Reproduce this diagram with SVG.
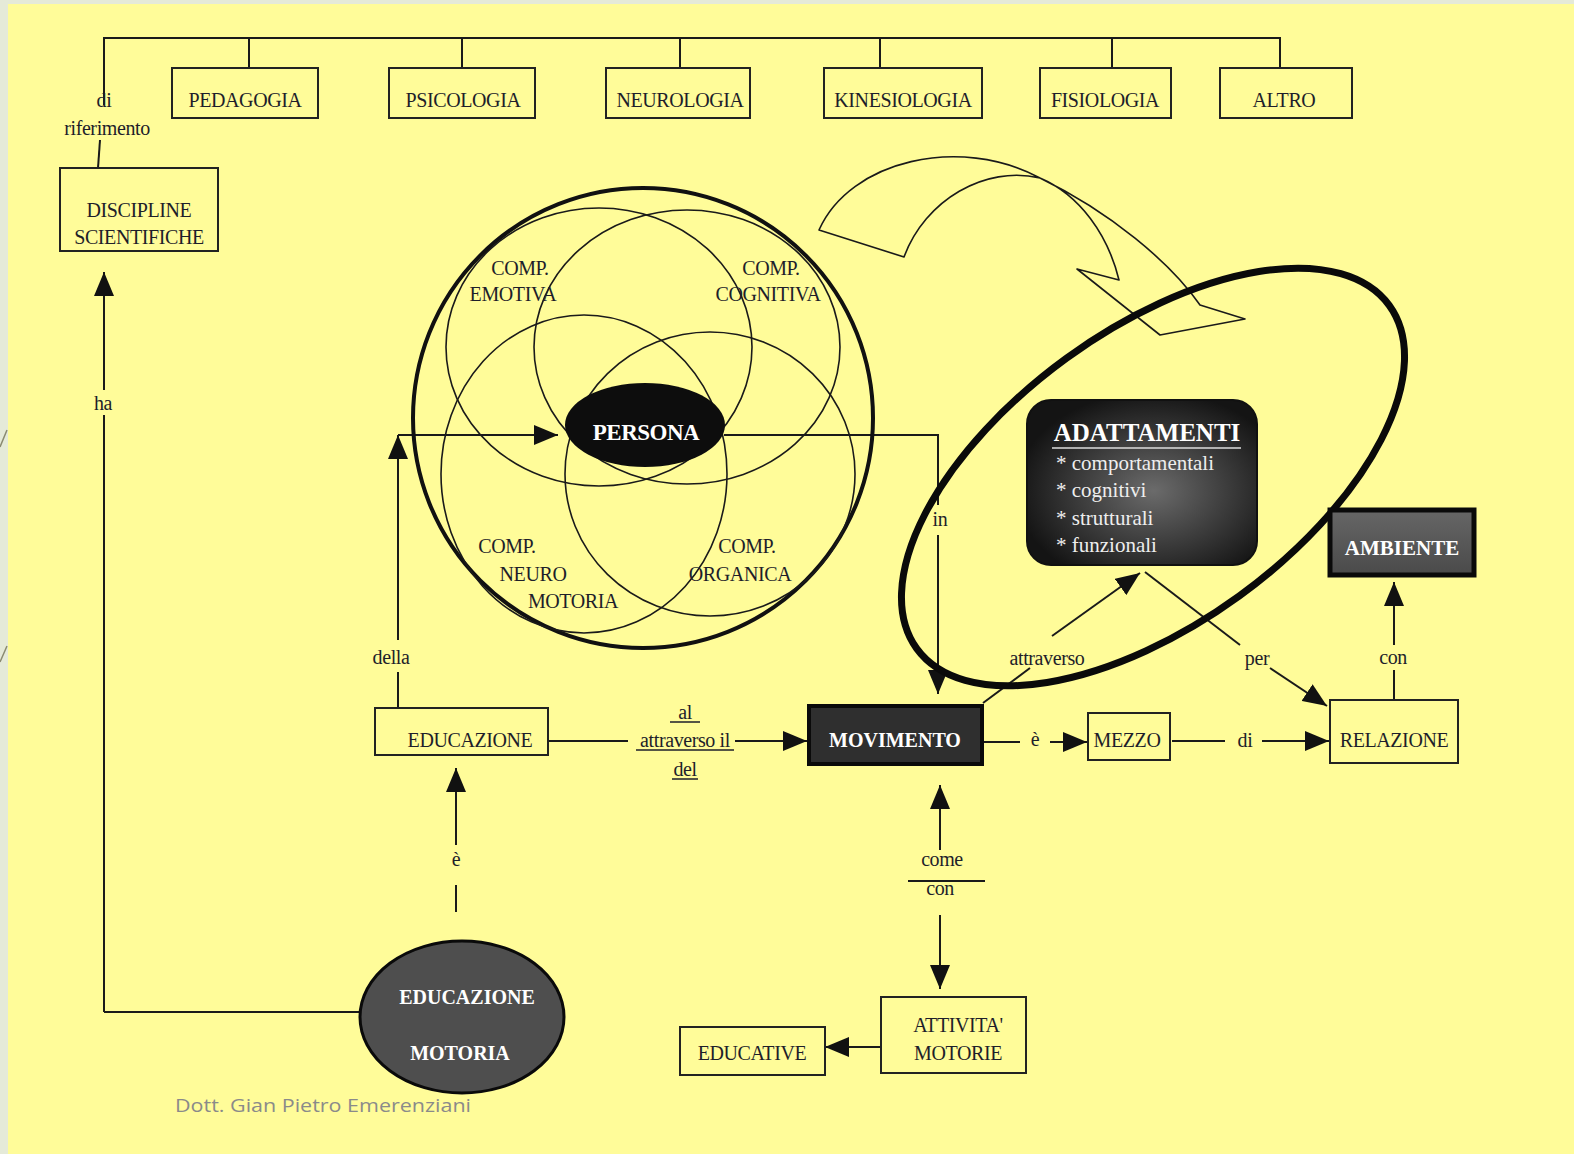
<svg xmlns="http://www.w3.org/2000/svg" width="1574" height="1154" viewBox="0 0 1574 1154">
<defs>
<style>
.t{font-family:"Liberation Serif","Times New Roman",serif;font-size:20px;fill:#1e1e2a;text-anchor:middle;letter-spacing:-0.4px}
.lb{font-family:"Liberation Serif","Times New Roman",serif;font-size:20px;fill:#1e1e2a;text-anchor:middle;letter-spacing:-0.4px}
.w{font-family:"Liberation Serif","Times New Roman",serif;font-weight:bold;fill:#fff;text-anchor:middle}
.box{fill:none;stroke:#222;stroke-width:2}
.c{fill:none;stroke:#1a1a1a;stroke-width:2}
.ring{fill:none;stroke:#1a1a1a;stroke-width:1.6}
.ar{marker-end:url(#ah)}
</style>
<marker id="ah" viewBox="0 0 24 20" refX="24" refY="10" markerWidth="24" markerHeight="20" markerUnits="userSpaceOnUse" orient="auto">
<path d="M0,0 L24,10 L0,20 Z" fill="#111"/>
</marker>
<radialGradient id="gAd" cx="0.55" cy="0.55" r="0.6">
<stop offset="0" stop-color="#6b6b6b"/>
<stop offset="1" stop-color="#141414"/>
</radialGradient>
<linearGradient id="gAm" x1="0" y1="0" x2="0" y2="1">
<stop offset="0" stop-color="#666"/>
<stop offset="1" stop-color="#4a4a4a"/>
</linearGradient>
</defs>

<rect x="0" y="0" width="1574" height="1154" fill="#e5ead8"/>
<rect x="8" y="4" width="1566" height="1150" fill="#fffc99"/>
<path d="M0,447 L7,430 M0,662 L7,646" stroke="#8a8a70" stroke-width="1.5" fill="none"/>

<g id="curved-arrow">
<path d="M819,230 C850,160 960,135 1040,178 C1110,212 1170,262 1200,305 L1245,319 L1160,335 L1077,269 L1119,280 C1108,235 1080,195 1040,178 C985,165 925,200 904,257 Z" fill="#fffc99" stroke="#1a1a1a" stroke-width="1.6" stroke-linejoin="round"/>
</g>

<g id="connectors">
<path class="c" d="M104,105 V38 H1280 V68 M249,38 V68 M462,38 V68 M680,38 V68 M880,38 V68 M1112,38 V68"/>
<path class="c" d="M100,140 L98,168"/>
<path class="c" d="M104,1012 H362 M104,1012 V415"/>
<path class="c ar" d="M104,390 V272"/>
<path class="c" d="M456,912 V885"/>
<path class="c ar" d="M456,845 V768"/>
<path class="c" d="M398,708 V672"/>
<path class="c ar" d="M398,640 V435"/>
<path class="c ar" d="M398,435 H558"/>
<path class="c" d="M724,435 H938 V505"/>
<path class="c ar" d="M938,535 V694"/>
<path class="c" d="M548,741 H628"/>
<path class="c ar" d="M735,741 H807"/>
<path class="c" d="M983,742 H1020"/>
<path class="c ar" d="M1050,742 H1087"/>
<path class="c" d="M1172,741 H1225"/>
<path class="c ar" d="M1262,741 H1329"/>
<path class="c" d="M1394,700 V670"/>
<path class="c ar" d="M1394,645 V582"/>
<path class="c" d="M983,703 L1030,668"/>
<path class="c ar" d="M1052,636 L1140,573"/>
<path class="c" d="M1145,572 L1240,645"/>
<path class="c ar" d="M1270,668 L1327,706"/>
<path class="c ar" d="M940,850 V785"/>
<path class="c ar" d="M940,915 V989"/>
<path class="c" d="M908,881 H985"/>
<path class="c ar" d="M881,1047 H825"/>
<path d="M670,722 H700 M636,750 H734 M672,779 H698" stroke="#1e1e2a" stroke-width="1.5" fill="none"/>
<text class="lb" x="104" y="107">di</text>
<text class="lb" x="107" y="135">riferimento</text>
<text class="lb" x="103" y="410">ha</text>
<text class="lb" x="456" y="866">è</text>
<text class="lb" x="391" y="664">della</text>
<text class="lb" x="940" y="526">in</text>
<text class="lb" x="685" y="719">al</text>
<text class="lb" x="685" y="747">attraverso il</text>
<text class="lb" x="685" y="776">del</text>
<text class="lb" x="1035" y="746">è</text>
<text class="lb" x="1245" y="747">di</text>
<text class="lb" x="1393" y="664">con</text>
<text class="lb" x="1257" y="665">per</text>
<text class="lb" x="1047" y="665">attraverso</text>
<text class="lb" x="942" y="866">come</text>
<text class="lb" x="940" y="895">con</text>
</g>

<g id="orbit-ring">
<ellipse cx="1153" cy="477" rx="292" ry="147" transform="rotate(-36 1153 477)" fill="none" stroke="#0a0a0a" stroke-width="7"/>
</g>

<g id="pedagogia"><rect class="box" x="172" y="68" width="146" height="50"/><text class="t" x="245" y="107">PEDAGOGIA</text></g>
<g id="psicologia"><rect class="box" x="389" y="68" width="146" height="50"/><text class="t" x="463" y="107">PSICOLOGIA</text></g>
<g id="neurologia"><rect class="box" x="606" y="68" width="144" height="50"/><text class="t" x="680" y="107">NEUROLOGIA</text></g>
<g id="kinesiologia"><rect class="box" x="824" y="68" width="158" height="50"/><text class="t" x="903" y="107">KINESIOLOGIA</text></g>
<g id="fisiologia"><rect class="box" x="1040" y="68" width="131" height="50"/><text class="t" x="1105" y="107">FISIOLOGIA</text></g>
<g id="altro"><rect class="box" x="1220" y="68" width="132" height="50"/><text class="t" x="1284" y="107">ALTRO</text></g>

<g id="discipline"><rect class="box" x="60" y="168" width="158" height="83"/><text class="t" x="139" y="217">DISCIPLINE</text><text class="t" x="139" y="244">SCIENTIFICHE</text></g>

<g id="componenti">
<circle cx="643" cy="418" r="230" fill="none" stroke="#111" stroke-width="4"/>
<ellipse class="ring" cx="599" cy="347" rx="153" ry="139"/>
<ellipse class="ring" cx="687" cy="347" rx="153" ry="137"/>
<ellipse class="ring" cx="584" cy="474" rx="143" ry="159"/>
<ellipse class="ring" cx="710" cy="474" rx="145" ry="142"/>
<text class="t" x="520" y="275">COMP.</text>
<text class="t" x="513" y="301">EMOTIVA</text>
<text class="t" x="771" y="275">COMP.</text>
<text class="t" x="768" y="301">COGNITIVA</text>
<text class="t" x="507" y="553">COMP.</text>
<text class="t" x="533" y="581">NEURO</text>
<text class="t" x="573" y="608">MOTORIA</text>
<text class="t" x="747" y="553">COMP.</text>
<text class="t" x="740" y="581">ORGANICA</text>
</g>

<g id="persona"><ellipse cx="645" cy="425" rx="80" ry="42" fill="#0d0d0d"/><text class="w" x="646" y="440" font-size="23" letter-spacing="-0.5">PERSONA</text></g>

<g id="adattamenti">
<rect x="1027" y="400" width="230" height="165" rx="24" fill="url(#gAd)" stroke="#111" stroke-width="2"/>
<text class="w" x="1147" y="441" font-size="25">ADATTAMENTI</text>
<line x1="1052" y1="448" x2="1241" y2="448" stroke="#ddd" stroke-width="1.5"/>
<g font-family="'Liberation Serif','Times New Roman',serif" font-size="21" fill="#eee">
<text x="1056" y="470">* comportamentali</text>
<text x="1056" y="497">* cognitivi</text>
<text x="1056" y="525">* strutturali</text>
<text x="1056" y="552">* funzionali</text>
</g>
</g>

<g id="ambiente"><rect x="1330" y="510" width="144" height="65" fill="url(#gAm)" stroke="#0a0a0a" stroke-width="5"/><text class="w" x="1402" y="555" font-size="21">AMBIENTE</text></g>
<g id="relazione"><rect class="box" x="1330" y="700" width="128" height="63"/><text class="t" x="1394" y="747">RELAZIONE</text></g>
<g id="mezzo"><rect class="box" x="1088" y="713" width="82" height="47"/><text class="t" x="1127" y="747">MEZZO</text></g>
<g id="movimento"><rect x="809" y="706" width="173" height="58" fill="#2f2f2f" stroke="#0a0a0a" stroke-width="4"/><text class="w" x="895" y="747" font-size="20">MOVIMENTO</text></g>
<g id="educazione"><rect class="box" x="375" y="708" width="173" height="47"/><text class="t" x="470" y="747">EDUCAZIONE</text></g>
<g id="educazione-motoria"><ellipse cx="462" cy="1017" rx="102" ry="76" fill="#4e4e4e" stroke="#0a0a0a" stroke-width="3"/><text class="w" x="467" y="1004" font-size="20">EDUCAZIONE</text><text class="w" x="460" y="1060" font-size="20">MOTORIA</text></g>
<g id="attivita"><rect class="box" x="881" y="997" width="145" height="76"/><text class="t" x="958" y="1032">ATTIVITA'</text><text class="t" x="958" y="1060">MOTORIE</text></g>
<g id="educative"><rect class="box" x="680" y="1027" width="145" height="48"/><text class="t" x="752" y="1060">EDUCATIVE</text></g>

<text x="175" y="1112" font-family="'Open Sans','Liberation Sans',sans-serif" font-size="19" fill="#8a8a8a" textLength="296" lengthAdjust="spacingAndGlyphs">Dott. Gian Pietro Emerenziani</text>
</svg>
